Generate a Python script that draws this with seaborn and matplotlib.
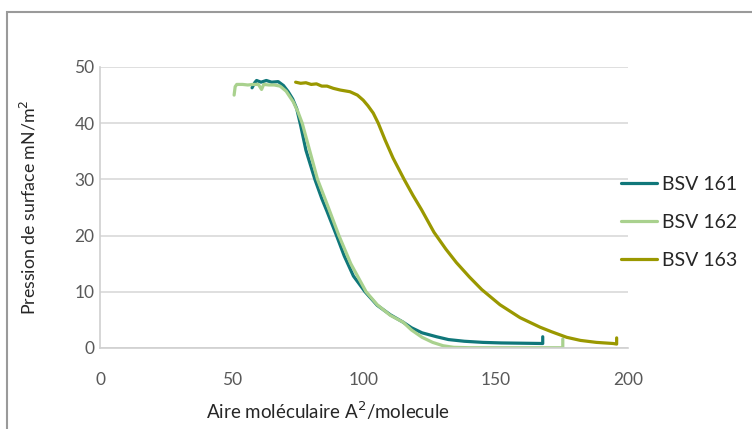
import pandas as pd
import numpy as np
import matplotlib
matplotlib.use("Agg")
import matplotlib.pyplot as plt
import seaborn as sns
from matplotlib.patches import Rectangle

# BSV 161
x161 = [57.6, 58.6, 59.3, 61, 63, 65, 67.5, 69.5, 71.3, 73, 74.5, 76, 78, 81.4, 84, 86,
        89.6, 92.5, 96, 100.4, 105, 110, 114.8, 118, 122, 127.5, 132, 138, 145, 152, 160, 167.7, 167.7]
y161 = [46.3, 47.2, 47.6, 47.3, 47.6, 47.3, 47.4, 46.7, 45.6, 44.3, 42.6, 39.6, 35.2, 30, 26.6, 24.3,
        20, 16.4, 12.8, 10, 7.6, 5.9, 4.6, 3.6, 2.7, 2.0, 1.5, 1.2, 1.0, 0.9, 0.85, 0.8, 2.0]

# BSV 162
x162 = [50.8, 51.2, 51.8, 54, 56, 58, 60, 61.2, 62, 64, 66, 68.2, 70.5, 73.2, 75, 76.6, 79.5,
        82.4, 86.5, 90.5, 95, 100.8, 105, 110, 114.8, 118, 122, 126, 130, 134, 140, 150, 160,
        170, 175.3, 175.3]
y162 = [45, 46.5, 46.9, 46.9, 46.8, 46.9, 46.9, 46.0, 46.9, 46.8, 46.8, 46.6, 45.7, 43.8, 42,
        40, 35, 30, 25, 20, 15, 10, 7.7, 5.8, 4.6, 3.2, 1.9, 1.0, 0.4, 0.12, 0.05, 0.05, 0.05,
        0.05, 0.05, 1.6]

# BSV 163
x163 = [74.1, 76, 78, 80, 82, 84, 86, 88.4, 91, 94.7, 97.5, 99.7, 101.5, 103.5, 105.4, 108,
        111, 115.2, 118.5, 121.8, 126.5, 131, 135, 140, 144.6, 151.5, 159.1, 166.7, 171, 176.8,
        182, 188, 194.4, 195.7, 195.7]
y163 = [47.3, 47.1, 47.2, 46.9, 47, 46.6, 46.6, 46.2, 45.9, 45.6, 45, 44.1, 43.1, 41.8, 40,
        37, 33.8, 30, 27.2, 24.6, 20.6, 17.6, 15.2, 12.6, 10.4, 7.7, 5.4, 3.7, 2.9, 1.9, 1.35, 1.0,
        0.8, 0.7, 1.8]

labels = ["BSV 161", "BSV 162", "BSV 163"]
colors = ["#10777a", "#a9d18e", "#9a9800"]

df = pd.concat([
    pd.DataFrame({"aire": x161, "pression": y161, "serie": labels[0]}),
    pd.DataFrame({"aire": x162, "pression": y162, "serie": labels[1]}),
    pd.DataFrame({"aire": x163, "pression": y163, "serie": labels[2]}),
])

sns.set_style("white")
plt.rcParams["font.family"] = ["Lato", "DejaVu Sans"]

fig = plt.figure(figsize=(7.52, 4.29), dpi=100)
ax = fig.add_axes([100/752, 81/429, 528/752, 281/429])

sns.lineplot(data=df, x="aire", y="pression", hue="serie", palette=colors,
             sort=False, estimator=None, linewidth=2.3, ax=ax)

ax.set_xlim(0, 200)
ax.set_ylim(0, 50)
ax.set_xticks([0, 50, 100, 150, 200])
ax.set_yticks([0, 10, 20, 30, 40, 50])
ax.grid(axis="y", color="#d9d9d9", linewidth=1.2)
ax.grid(axis="x", visible=False)
ax.tick_params(length=0, labelsize=12.5, labelcolor="#595959")
ax.tick_params(axis="x", pad=17)
ax.tick_params(axis="y", pad=4)
for side in ["top", "right"]:
    ax.spines[side].set_visible(False)
for side in ["left", "bottom"]:
    ax.spines[side].set_color("#d0d0d0")
    ax.spines[side].set_linewidth(1.2)

ax.set_xlabel("Aire moléculaire A$^2$/molecule", fontsize=13.5, color="#262626")
ax.set_ylabel("Pression de surface mN/m$^2$", fontsize=12.8, color="#262626")
ax.xaxis.set_label_coords(0.432, -0.185)
ax.yaxis.set_label_coords(-0.117, 0.5)

ax.legend(loc="center left", bbox_to_anchor=(0.987, 0.448), frameon=False, fontsize=14,
          handlelength=1.85, handletextpad=0.26, labelspacing=1.08,
          borderpad=0, borderaxespad=0)

fig.patches.append(Rectangle((7/752, -0.1), 1.2, 1.1 - 12/429, transform=fig.transFigure,
                             fill=False, edgecolor="#9a9a9a", linewidth=1.5))

fig.savefig("out.png", dpi=100)
